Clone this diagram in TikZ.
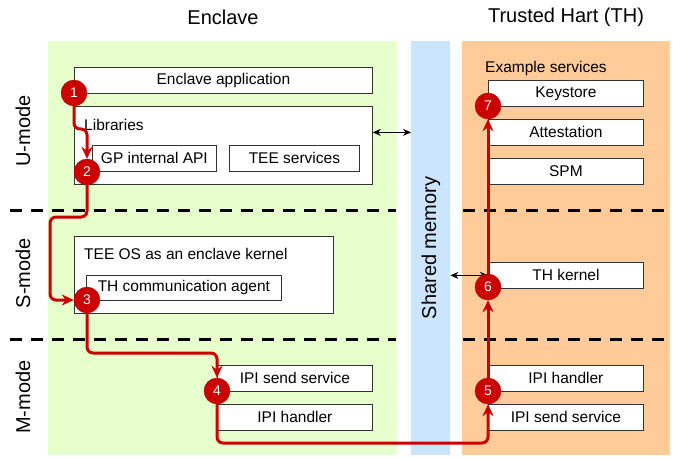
\documentclass[tikz,border=0pt]{standalone}
\usepackage{fontspec}
\setmainfont{Liberation Sans}
\usetikzlibrary{arrows.meta}

\definecolor{enclavegreen}{HTML}{E6FFCC}
\definecolor{shmemblue}{HTML}{CCE5FF}
\definecolor{thorange}{HTML}{FFCC99}
\definecolor{flowred}{HTML}{CC0000}

\pgfdeclarelayer{front}
\pgfsetlayers{main,front}

\begin{document}
\begin{tikzpicture}[
            x=1pt, y=-1pt, % pixel grid, y going down
            region/.style={draw=none, inner sep=0pt, anchor=north west, minimum height=414pt},
            box/.style={draw=black!80, fill=white, line width=0.8pt, anchor=north west,
                        minimum height=26pt, inner sep=0pt, font=\fontsize{15.5}{18}\selectfont},
            boxlabel/.style={anchor=west, inner sep=0pt, font=\fontsize{15.5}{18}\selectfont},
            title/.style={font=\fontsize{20}{24}\selectfont},
            mode/.style={title, rotate=90},
            marker/.style={circle, fill=flowred, draw=flowred!85!black, minimum size=26pt,
                           inner sep=0pt, text=white, font=\fontsize{14}{16}\selectfont},
            flow/.style={draw=flowred, line width=3pt, rounded corners=6pt,
                         -{Stealth[length=12pt, width=11pt]}},
            link/.style={{Stealth[length=8pt, width=7pt]}-{Stealth[length=8pt, width=7pt]}, line width=0.8pt},
            boundary/.style={line width=3pt, dash pattern=on 12pt off 9pt}
        ]

        \useasboundingbox (0,0) rectangle (676,457);

        % Regions
        \node[region, fill=enclavegreen, minimum width=349pt] (enclave) at (48,41) {};
        \node[region, fill=shmemblue, minimum width=39pt] (shmem) at (411,41) {};
        \node[region, fill=thorange, minimum width=208pt] (th) at (462,41) {};

        \node[title] (enclave-title) at (223,17) {Enclave};
        \node[title] (th-title) at (566,17) {Trusted Hart (TH)};
        \node[title, rotate=90] (shmem-title) at (431,248) {Shared memory};

        % Privilege mode boundaries
        \draw[boundary] (10,210) -- (396,210);
        \draw[boundary] (463,210) -- (664,210);
        \draw[boundary] (10,339) -- (396,339);
        \draw[boundary] (463,339) -- (664,339);

        \node[mode] (u-mode) at (23,131) {U-mode};
        \node[mode] (s-mode) at (23,273) {S-mode};
        \node[mode] (m-mode) at (23,397) {M-mode};

        % Enclave side
        \node[box, minimum width=298pt] (app) at (74,67) {Enclave application};
        \node[box, minimum width=298pt, minimum height=78pt] (libs) at (74,106) {};
        \node[boxlabel] (libs-label) at (84,125) {Libraries};
        \node[box, minimum width=124pt] (gpapi) at (92,145) {GP internal API};
        \node[box, minimum width=130pt] (teesvc) at (229,145) {TEE services};
        \node[box, minimum width=259pt, minimum height=77pt] (teeos) at (74,236) {};
        \node[boxlabel] (teeos-label) at (84,254) {TEE OS as an enclave kernel};
        \node[box, minimum width=195pt, minimum height=25pt] (agent) at (86,275) {TH communication agent};
        \node[box, minimum width=155pt] (e-ipisend) at (217,365) {IPI send service};
        \node[box, minimum width=155pt] (e-ipihandler) at (217,404) {IPI handler};

        % Trusted Hart side
        \node[boxlabel] (svc-label) at (485,68) {Example services};
        \node[box, minimum width=155pt] (keystore) at (488,80) {Keystore};
        \node[box, minimum width=155pt] (attest) at (488,119) {Attestation};
        \node[box, minimum width=155pt] (spm) at (488,158) {SPM};
        \node[box, minimum width=155pt] (thkernel) at (488,262) {TH kernel};
        \node[box, minimum width=155pt] (t-ipihandler) at (488,365) {IPI handler};
        \node[box, minimum width=155pt] (t-ipisend) at (488,404) {IPI send service};

        % Shared memory access
        \coordinate (libs-port) at ([yshift=13pt]libs.east);
        \draw[link] (libs-port) -- (libs-port -| shmem.west);
        \draw[link] (shmem.east |- thkernel.west) -- (thkernel.west);

        % Steps (kept above the call path)
        \begin{pgfonlayer}{front}
        \node[marker] (m1) at (74,93) {1};
        \node[marker] (m2) at (87,172) {2};
        \node[marker] (m3) at (87,300) {3};
        \node[marker] (m4) at (217,391) {4};
        \node[marker] (m5) at (488,391) {5};
        \node[marker] (m6) at (488,287) {6};
        \node[marker] (m7) at (488,106) {7};
        \end{pgfonlayer}

        % Call path
        \draw[flow] (m1.center) -- (74,129) -- (87,129) -- (m2.north);
        \draw[flow] (m2.center) -- (87,217) -- (50,217) -- (50,300) -- (m3.west);
        \draw[flow] (m3.center) -- (87,353) -- (217,353) -- (m4.north);
        \draw[flow] (m4.center) -- (217,443) -- (488,443) -- (m5.south);
        \draw[flow] (m5.center) -- (m6.south);
        \draw[flow] (m6.center) -- (m7.south);

    \end{tikzpicture}
\end{document}
